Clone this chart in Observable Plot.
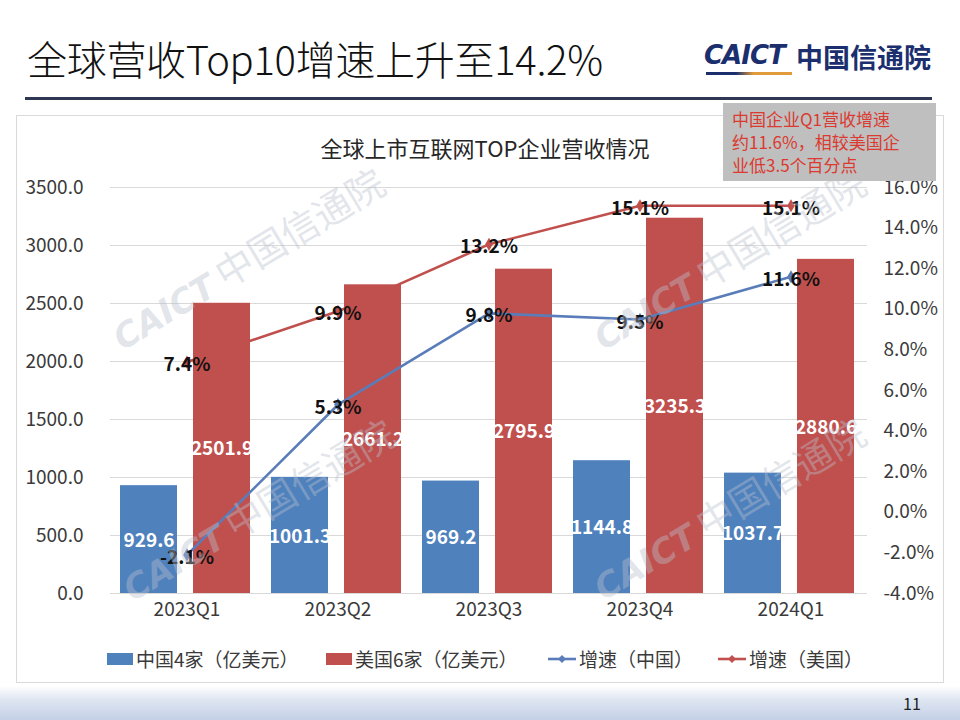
<!DOCTYPE html>
<html>
<head>
<meta charset="utf-8">
<script src="https://cdn.jsdelivr.net/npm/d3@7"></script>
<script src="https://cdn.jsdelivr.net/npm/@observablehq/plot@0.6"></script>
<style>
  html, body { margin: 0; padding: 0; }
  body { width: 960px; height: 720px; position: relative; overflow: hidden; background: #fff;
         font-family: "Noto Sans CJK SC", "Noto Sans", sans-serif; }
  #title { position: absolute; left: 27px; top: 29px; font-size: 40px; color: #111; font-weight: 300; letter-spacing: -0.3px; white-space: nowrap; }
  #rule { position: absolute; left: 25px; top: 97px; width: 907px; height: 3px; background: #2e3852; }
  #logo { position: absolute; left: 704px; top: 40px; white-space: nowrap; }
  #logo .caict { position: absolute; left: 0; top: 0; font-family: "DejaVu Sans", sans-serif; font-weight: bold; font-style: italic; font-size: 26px; color: #1b2f6e; letter-spacing: -1px; }
  #logo .under { position: absolute; left: 2px; top: 32px; width: 86px; height: 3px; background: linear-gradient(to right, #1b2f6e 0%, #1b2f6e 35%, #e39a3b 55%, #e39a3b 100%); }
  #logo .cn { position: absolute; left: 92px; top: -3px; font-size: 27px; font-weight: bold; color: #1b2f6e; }
  #panel { position: absolute; left: 16px; top: 115px; width: 926px; height: 566px; border: 1px solid #d9d9d9; }
  #chartTitle { position: absolute; left: 0; width: 970px; top: 131px; text-align: center; font-size: 22px; color: #262626; }
  #chart { position: absolute; left: 0; top: 170px; }
  #note { position: absolute; left: 723px; top: 103px; width: 204px; height: 70px; padding: 4px 0 4px 9px; background: #bfbfbf; color: #db3a30; font-size: 17px; line-height: 23px; z-index: 5; }
  #legend { position: absolute; top: 645px; left: 0; width: 960px; height: 26px; font-size: 19px; color: #3a3a3a; }
  #legend .item { position: absolute; top: 0; display: flex; align-items: center; white-space: nowrap; }
  #legend svg { margin-right: 2px; }
  #footer { position: absolute; left: 0; top: 686px; width: 960px; height: 34px; background: linear-gradient(to bottom, #ffffff 0%, #dfe6f2 40%, #c3d0e6 100%); }
  #footer span { position: absolute; left: 903px; top: 5px; font-size: 16px; color: #222; }
  .wm { position: absolute; white-space: nowrap; transform: translate(-50%, -50%) rotate(-31deg); color: rgba(185, 192, 205, 0.42); pointer-events: none; z-index: 4; }
  .wm b { font-family: "DejaVu Sans", sans-serif; font-style: italic; font-size: 34px; margin-right: 8px; }
  .wm span { font-size: 38px; }
</style>
</head>
<body>
<div id="title">全球营收Top10增速上升至14.2%</div>
<div id="rule"></div>
<div id="logo"><span class="caict">CAICT</span><div class="under"></div><span class="cn">中国信通院</span></div>
<div id="panel"></div>
<div id="chartTitle">全球上市互联网TOP企业营收情况</div>
<div id="chart"></div>
<div id="note">中国企业Q1营收增速<br>约11.6%，相较美国企<br>业低3.5个百分点</div>
<div id="legend"></div>
<div id="footer"><span>11</span></div>
<div class="wm" style="left:247px; top:257px;"><b>CAICT</b><span>中国信通院</span></div>
<div class="wm" style="left:257px; top:508px;"><b>CAICT</b><span>中国信通院</span></div>
<div class="wm" style="left:728px; top:257px;"><b>CAICT</b><span>中国信通院</span></div>
<div class="wm" style="left:728px; top:507px;"><b>CAICT</b><span>中国信通院</span></div>
<script>
// ---- data ----
const quarters = ["2023Q1", "2023Q2", "2023Q3", "2023Q4", "2024Q1"];
const chinaRevenue = [929.6, 1001.3, 969.2, 1144.8, 1037.7];   // 中国4家（亿美元）
const usRevenue = [2501.9, 2661.2, 2795.9, 3235.3, 2880.6];     // 美国6家（亿美元）
const chinaGrowth = [-2.1, 5.3, 9.8, 9.5, 11.6];                 // 增速（中国） %
const usGrowth = [7.4, 9.9, 13.2, 15.1, 15.1];                   // 增速（美国） %
const leftTicks = [0, 500, 1000, 1500, 2000, 2500, 3000, 3500];
const rightTicks = [-4, -2, 0, 2, 4, 6, 8, 10, 12, 14, 16];
const seriesNames = ["中国4家（亿美元）", "美国6家（亿美元）", "增速（中国）", "增速（美国）"];

const BLUE = "#4f81bd", RED = "#c0504d", BLUE_LINE = "#5a7dba", RED_LINE = "#c0504d";
const FONT = '"Noto Sans CJK SC", "Noto Sans", sans-serif';

// secondary axis mapped onto primary scale
const leftMax = leftTicks[leftTicks.length - 1];
const rMin = rightTicks[0], rMax = rightTicks[rightTicks.length - 1];
const toLeft = p => (p - rMin) * leftMax / (rMax - rMin);
const fromLeft = v => v * (rMax - rMin) / leftMax + rMin;

const rows = quarters.map((q, i) => ({
  q, cn: chinaRevenue[i], us: usRevenue[i], cng: chinaGrowth[i], usg: usGrowth[i]
}));

const chart = Plot.plot({
  width: 960,
  height: 460,
  marginLeft: 110,
  marginRight: 93,
  marginTop: 17,
  marginBottom: 37,
  style: { fontFamily: FONT, fontSize: "19px", color: "#3a3a3a", background: "transparent", overflow: "visible" },
  x: { type: "band", domain: quarters, padding: 0, label: null },
  y: { domain: [0, leftMax], label: null },
  marks: [
    Plot.ruleY(leftTicks, { stroke: "#d9d9d9", strokeWidth: 1.2 }),
    Plot.barY(rows, { x: "q", y: "cn", fill: BLUE, insetLeft: 9, insetRight: 85 }),
    Plot.barY(rows, { x: "q", y: "us", fill: RED, insetLeft: 82, insetRight: 12 }),
    Plot.text(rows, { x: "q", y: d => d.cn / 2, text: d => d.cn.toFixed(1), dx: -38, dy: 1,
      fill: "white", fontWeight: "bold", fontSize: 19 }),
    Plot.text(rows, { x: "q", y: d => d.us / 2, text: d => d.us.toFixed(1), dx: 35, dy: 1,
      fill: "white", fontWeight: "bold", fontSize: 19 }),
    Plot.line(rows, { x: "q", y: d => toLeft(d.cng), stroke: BLUE_LINE, strokeWidth: 2.6 }),
    Plot.dot(rows, { x: "q", y: d => toLeft(d.cng), symbol: "diamond", r: 4, fill: BLUE_LINE }),
    Plot.line(rows, { x: "q", y: d => toLeft(d.usg), stroke: RED_LINE, strokeWidth: 2.6 }),
    Plot.dot(rows, { x: "q", y: d => toLeft(d.usg), symbol: "diamond", r: 4, fill: RED_LINE }),
    Plot.text(rows, { x: "q", y: d => toLeft(d.cng), text: d => d.cng.toFixed(1) + "%", dy: 3,
      fill: "#111", fontWeight: "bold", fontSize: 19 }),
    Plot.text(rows, { x: "q", y: d => toLeft(d.usg), text: d => d.usg.toFixed(1) + "%", dy: 3,
      fill: "#111", fontWeight: "bold", fontSize: 19 }),
    Plot.axisY({ anchor: "left", ticks: leftTicks, tickSize: 0, tickPadding: 27,
      tickFormat: d => d.toFixed(1), label: null }),
    Plot.axisY({ anchor: "right", ticks: rightTicks.map(toLeft), tickSize: 0, tickPadding: 16,
      tickFormat: v => (Math.round(fromLeft(v) * 10) / 10).toFixed(1) + "%", label: null }),
    Plot.axisX({ tickSize: 0, tickPadding: 9, label: null })
  ]
});
document.getElementById("chart").appendChild(chart);

// ---- legend ----
const legend = document.getElementById("legend");
const legendX = [107, 326, 547, 717];
seriesNames.forEach((name, i) => {
  const item = document.createElement("div");
  item.className = "item";
  item.style.left = legendX[i] + "px";
  let sw;
  if (i < 2) {
    sw = `<svg width="27" height="26"><rect x="0" y="7" width="26" height="12" fill="${i === 0 ? BLUE : RED}"/></svg>`;
  } else {
    const c = i === 2 ? BLUE_LINE : RED_LINE;
    sw = `<svg width="30" height="26"><line x1="1" y1="13" x2="29" y2="13" stroke="${c}" stroke-width="2.6"/><path d="M15 9 L19 13 L15 17 L11 13 Z" fill="${c}"/></svg>`;
  }
  item.innerHTML = sw + `<span>${name}</span>`;
  legend.appendChild(item);
});
</script>
</body>
</html>
